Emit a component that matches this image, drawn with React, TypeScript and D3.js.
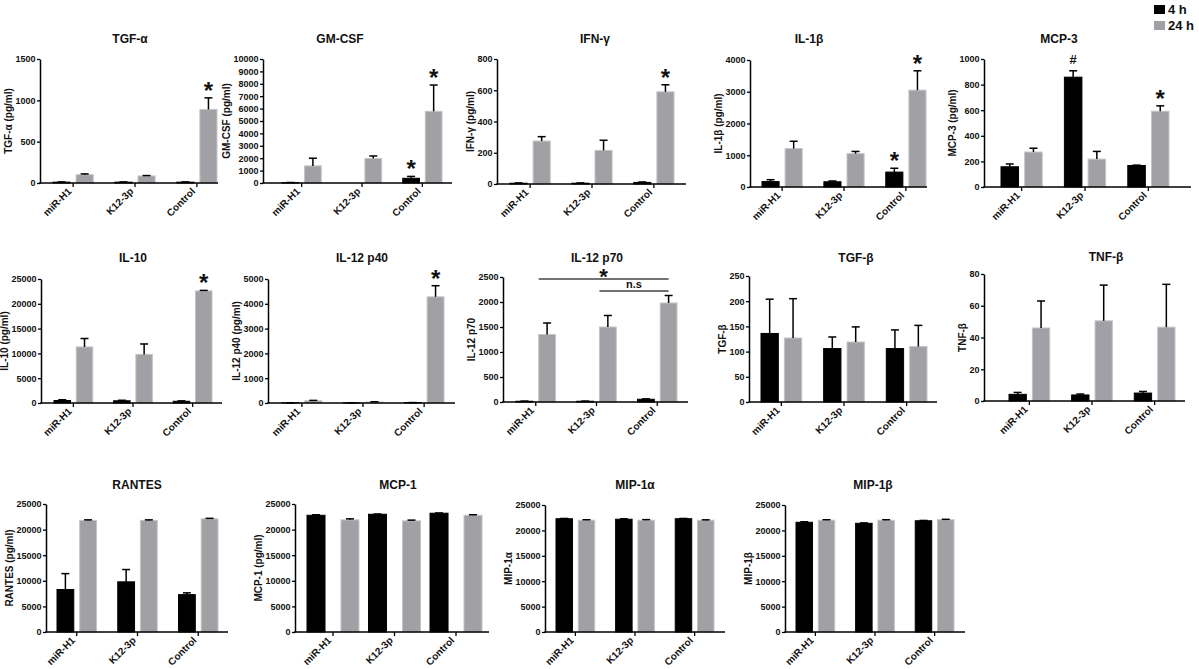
import { useEffect, useRef } from "react"
import * as d3 from "d3"

// groups and series shared by every panel
const categories = ["miR-H1", "K12-3p", "Control"]
const seriesNames = ["4 h", "24 h"]

const titles = ["TGF-α", "GM-CSF", "IFN-γ", "IL-1β", "MCP-3", "IL-10", "IL-12 p40", "IL-12 p70", "TGF-β", "TNF-β", "RANTES", "MCP-1", "MIP-1α", "MIP-1β"]
const yLabels = [
  "TGF-α (pg/ml)", "GM-CSF (pg/ml)", "IFN-γ (pg/ml)", "IL-1β (pg/ml)", "MCP-3 (pg/ml)",
  "IL-10 (pg/ml)", "IL-12 p40 (pg/ml)", "IL-12 p70", "TGF-β", "TNF-β",
  "RANTES (pg/ml)", "MCP-1 (pg/ml)", "MIP-1α", "MIP-1β",
]
const yMax = [1500, 10000, 800, 4000, 1000, 25000, 5000, 2500, 250, 80, 25000, 25000, 25000, 25000]
const yStep = [500, 1000, 200, 1000, 200, 5000, 1000, 500, 50, 20, 5000, 5000, 5000, 5000]

// means and SEM (upper whisker only), one row per panel, columns = categories
const mean4h = [
  [10, 10, 10], [30, 0, 380], [5, 5, 10], [170, 165, 470], [158, 858, 168],
  [500, 450, 350], [5, 5, 15], [15, 15, 55], [136, 106, 106], [4.2, 3.8, 5.0],
  [8300, 9800, 7300], [22800, 23000, 23200], [22300, 22200, 22300], [21600, 21400, 21900],
]
const err4h = [
  [3, 3, 3], [10, 0, 150], [2, 2, 3], [60, 25, 120], [22, 50, 3],
  [150, 100, 80], [2, 2, 3], [3, 3, 8], [68, 23, 37], [1.2, 0.6, 1.0],
  [3100, 2400, 350], [100, 50, 50], [50, 80, 50], [100, 80, 60],
]
const mean24h = [
  [100, 85, 890], [1380, 1980, 5780], [275, 215, 590], [1210, 1050, 3050], [273, 218, 592],
  [11300, 9800, 22600], [90, 40, 4280], [1350, 1500, 1980], [127, 119, 110], [46, 50.5, 46.5],
  [21800, 21800, 22100], [21900, 21700, 22800], [22000, 22000, 22000], [22000, 22000, 22100],
]
const err24h = [
  [10, 5, 140], [620, 200, 2120], [28, 65, 45], [230, 70, 610], [30, 60, 42],
  [1700, 2100, 100], [15, 10, 450], [230, 230, 150], [78, 30, 42], [17, 22.5, 27],
  [100, 100, 100], [200, 150, 100], [100, 120, 80], [100, 100, 80],
]
// [panel, series, category, symbol]
const marks: [number, number, number, string][] = [
  [0, 1, 2, "*"], [1, 0, 2, "*"], [1, 1, 2, "*"], [2, 1, 2, "*"], [3, 0, 2, "*"], [3, 1, 2, "*"],
  [4, 0, 1, "#"], [4, 1, 2, "*"], [5, 1, 2, "*"], [6, 1, 2, "*"],
]
// [panel, from, to, value, label]
const brackets: [number, string, string, number, string][] = [
  [7, "miR-H1", "Control", 2460, "*"],
  [7, "K12-3p", "Control", 2220, "n.s"],
]

// panel frames: y-axis x, x-axis end, top tick y, baseline y, bar range, title position
const frames = [
  { x0: 40, x1: 218, top: 59, base: 183, b0: 53, b1: 217, tx: 130, ty: 43 },
  { x0: 263, x1: 452, top: 59, base: 183, b0: 282, b1: 442, tx: 340, ty: 43 },
  { x0: 497, x1: 686, top: 59, base: 184, b0: 510, b1: 674, tx: 595, ty: 43 },
  { x0: 750, x1: 927, top: 60, base: 187, b0: 762, b1: 926, tx: 809, ty: 43 },
  { x0: 984, x1: 1191, top: 59, base: 187, b0: 1001, b1: 1169, tx: 1059, ty: 43 },
  { x0: 41, x1: 222, top: 279, base: 403, b0: 54, b1: 212, tx: 133, ty: 262 },
  { x0: 268, x1: 455, top: 279, base: 403, b0: 282, b1: 444, tx: 362, ty: 262 },
  { x0: 503, x1: 688, top: 277, base: 402, b0: 516, b1: 677, tx: 597, ty: 262 },
  { x0: 749, x1: 937, top: 276, base: 402, b0: 761, b1: 927, tx: 856, ty: 262 },
  { x0: 984, x1: 1185, top: 274, base: 401, b0: 1009, b1: 1175, tx: 1106, ty: 261 },
  { x0: 46, x1: 228, top: 504, base: 632, b0: 57, b1: 218, tx: 137, ty: 489 },
  { x0: 295, x1: 489, top: 504, base: 632, b0: 307, b1: 482, tx: 398, ty: 489, outer: 0.155, inner: 0.47 },
  { x0: 545, x1: 725, top: 505, base: 632, b0: 556, b1: 714, tx: 635, ty: 489 },
  { x0: 785, x1: 965, top: 505, base: 632, b0: 796, b1: 954, tx: 873, ty: 489 },
]

const FONT = "'Liberation Sans', Arial, sans-serif"
const GRAY = "#a1a0a5"
const colors = ["#000000", GRAY]

export default function App() {
  const svgRef = useRef<SVGSVGElement>(null)

  useEffect(() => {
    if (!svgRef.current) return
    const svg = d3.select(svgRef.current)
    svg.selectAll("*").remove()
    svg.attr("font-family", FONT).attr("font-weight", "bold")

    titles.forEach((title, p) => {
      const f = frames[p]
      const g = svg.append("g")
      const y = d3.scaleLinear().domain([0, yMax[p]]).range([f.base, f.top])
      const x = d3
        .scaleBand()
        .domain(categories)
        .range([f.b0, f.b1])
        .paddingInner(f.outer ?? 0.35)
        .paddingOuter(0)
      const xs = d3
        .scaleBand()
        .domain(seriesNames)
        .range([0, x.bandwidth()])
        .paddingInner(f.inner ?? 0.26)

      const means = [mean4h[p], mean24h[p]]
      const errs = [err4h[p], err24h[p]]
      const rows = seriesNames.flatMap((s, si) =>
        categories.map((c, ci) => ({ s, si, c, ci, v: means[si][ci], e: errs[si][ci] })),
      )

      // bars
      g.selectAll(".bar")
        .data(rows)
        .enter()
        .append("rect")
        .attr("x", (d) => (x(d.c) || 0) + (xs(d.s) || 0))
        .attr("width", xs.bandwidth())
        .attr("y", (d) => y(d.v))
        .attr("height", (d) => Math.max(f.base - y(d.v), 0))
        .attr("fill", (d) => colors[d.si])
        .attr("stroke", (d) => (d.si === 0 ? "#000" : "#c4c4c6"))
        .attr("stroke-width", 1)

      // error bars (upper only)
      const cx = (d: { s: string; c: string }) => (x(d.c) || 0) + (xs(d.s) || 0) + xs.bandwidth() / 2
      const withErr = rows.filter((d) => d.e > 0)
      g.selectAll(".err")
        .data(withErr)
        .enter()
        .append("line")
        .attr("x1", cx)
        .attr("x2", cx)
        .attr("y1", (d) => y(d.v))
        .attr("y2", (d) => y(d.v + d.e))
        .attr("stroke", "#000")
        .attr("stroke-width", 1.5)
      g.selectAll(".cap")
        .data(withErr)
        .enter()
        .append("line")
        .attr("x1", (d) => cx(d) - 4)
        .attr("x2", (d) => cx(d) + 4)
        .attr("y1", (d) => y(d.v + d.e))
        .attr("y2", (d) => y(d.v + d.e))
        .attr("stroke", "#000")
        .attr("stroke-width", 1.5)

      // y axis
      const ticks = d3.range(0, yMax[p] + yStep[p] / 2, yStep[p])
      const ya = g
        .append("g")
        .attr("transform", `translate(${f.x0},0)`)
        .call(d3.axisLeft(y).tickValues(ticks).tickSize(3).tickSizeOuter(0).tickPadding(1.5).tickFormat(d3.format("d")))
      ya.select(".domain").attr("stroke-width", 1.5)
      ya.selectAll("line").attr("stroke-width", 1.3)
      ya.selectAll("text").attr("font-size", 9).attr("font-family", FONT).attr("font-weight", "bold").attr("fill", "#111")

      // x axis
      g.append("line")
        .attr("x1", f.x0 - 0.75)
        .attr("x2", f.x1)
        .attr("y1", f.base)
        .attr("y2", f.base)
        .attr("stroke", "#000")
        .attr("stroke-width", 1.5)
      const xa = g
        .append("g")
        .attr("transform", `translate(0,${f.base})`)
        .call(d3.axisBottom(x).tickSize(4).tickSizeOuter(0))
      xa.select(".domain").remove()
      xa.selectAll("line").attr("stroke-width", 1.3)
      xa.selectAll("text")
        .attr("font-size", 10)
        .attr("font-family", FONT)
        .attr("font-weight", "bold")
        .attr("fill", "#111")
        .attr("text-anchor", "end")
        .attr("y", 0)
        .attr("dy", "0")
        .attr("transform", "translate(-1,9) rotate(-45)")

      // y label, placed just left of the widest tick label
      const tickW = String(yMax[p]).length * 5
      g.append("text")
        .attr("transform", `translate(${f.x0 - 4.5 - tickW - 3.5},${(f.top + f.base) / 2}) rotate(-90)`)
        .attr("text-anchor", "middle")
        .attr("font-size", 10)
        .attr("fill", "#111")
        .text(yLabels[p])

      // title
      g.append("text")
        .attr("x", f.tx)
        .attr("y", f.ty)
        .attr("text-anchor", "middle")
        .attr("font-size", 12)
        .attr("fill", "#111")
        .text(title)

      // significance symbols
      marks
        .filter((m) => m[0] === p)
        .forEach(([, si, ci, sym]) => {
          const d = rows.find((r) => r.si === si && r.ci === ci)!
          g.append("text")
            .attr("x", cx(d))
            .attr("y", y(d.v + d.e) + (sym === "*" ? 1 : -7))
            .attr("text-anchor", "middle")
            .attr("font-size", sym === "*" ? 24 : 13)
            .attr("fill", "#111")
            .text(sym)
        })

      brackets
        .filter((b) => b[0] === p)
        .forEach(([, from, to, v, label]) => {
          const xStart = (x(from) || 0) + (xs("24 h") || 0)
          const xEnd = (x(to) || 0) + (xs("24 h") || 0) + xs.bandwidth() / 2
          g.append("line")
            .attr("x1", xStart)
            .attr("x2", xEnd)
            .attr("y1", y(v))
            .attr("y2", y(v))
            .attr("stroke", "#444")
            .attr("stroke-width", 1.5)
          g.append("text")
            .attr("x", (xStart + xEnd) / 2)
            .attr("y", label === "*" ? y(v) + 5 : y(v) - 3)
            .attr("text-anchor", "middle")
            .attr("font-size", label === "*" ? 22 : 11)
            .attr("fill", "#111")
            .text(label)
        })
    })

    // legend
    const lg = svg.append("g").attr("transform", "translate(1154,4)")
    seriesNames.forEach((s, i) => {
      lg.append("rect")
        .attr("x", 0)
        .attr("y", i * 16 + 1)
        .attr("width", 11)
        .attr("height", 9)
        .attr("fill", colors[i])
      lg.append("text")
        .attr("x", 14)
        .attr("y", i * 16 + 10)
        .attr("font-size", 13)
        .attr("fill", "#111")
        .text(s)
    })
  }, [])

  return (
    <svg
      ref={svgRef}
      width={1199}
      height={669}
      style={{ position: "absolute", left: 0, top: 0, background: "#fff" }}
    />
  )
}
